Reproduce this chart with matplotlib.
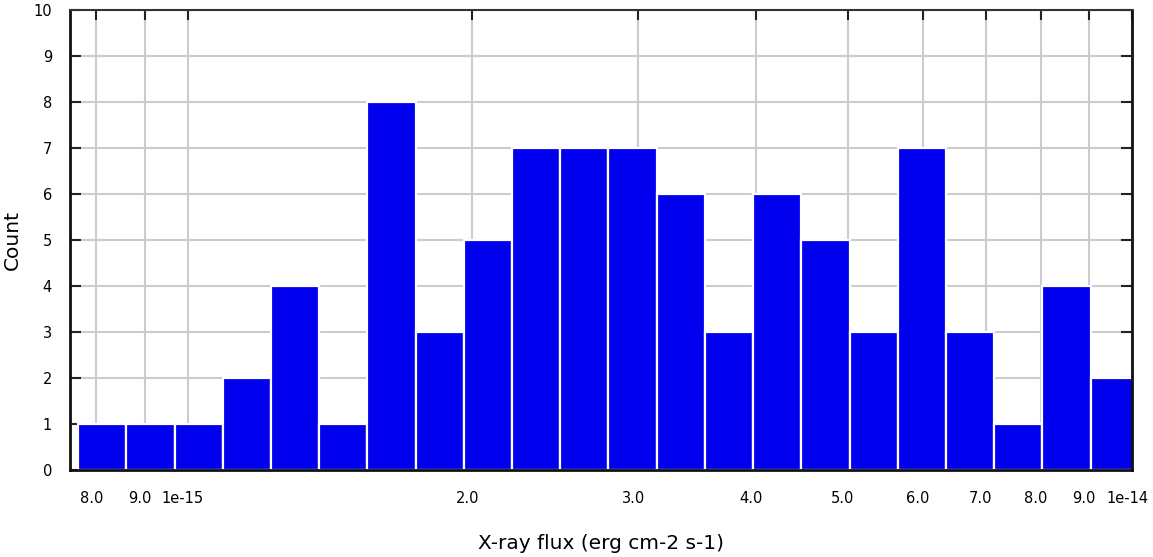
import numpy as np
import matplotlib
matplotlib.use("Agg")
import matplotlib.pyplot as plt
from matplotlib.transforms import ScaledTranslation

# Histogram of X-ray fluxes in equal log-width bins
counts = [1, 1, 1, 2, 4, 1, 8, 3, 5, 7, 7, 7, 6, 3, 6, 5, 3, 7, 3, 1, 4, 2]
log_flux_start = -14.1162   # log10 of the first bin's lower edge
log_bin_width = 0.05106     # bin width in dex

tick_values = [8e-15, 9e-15, 1e-14, 2e-14, 3e-14, 4e-14, 5e-14,
               6e-14, 7e-14, 8e-14, 9e-14, 1e-13]
tick_labels = ["8.0", "9.0", "1e-15", "2.0", "3.0", "4.0", "5.0",
               "6.0", "7.0", "8.0", "9.0", "1e-14"]
y_ticks = list(range(0, 11))

x_min, x_max = 7.5e-15, 1.0e-13

edges = 10 ** (log_flux_start + log_bin_width * np.arange(len(counts) + 1))

plt.rcParams['font.family'] = ['DejaVu Sans']

fig = plt.figure(figsize=(11.53, 5.57), dpi=100)
ax = fig.add_axes([0.0607, 0.1562, 0.9211, 0.8258])

ax.set_xscale('log')
ax.bar(edges[:-1], counts, width=np.diff(edges), align='edge',
       color='#0000ee', edgecolor='white', linewidth=1.6, zorder=2)

ax.set_xlim(x_min, x_max)
ax.set_ylim(0, 10)

ax.set_xticks(tick_values)
ax.set_xticklabels(tick_labels)
ax.xaxis.set_minor_locator(matplotlib.ticker.NullLocator())
ax.set_yticks(y_ticks)

ax.grid(True, color='#cccccc', linewidth=1.5, zorder=0)
ax.set_axisbelow(True)

ax.tick_params(axis='x', which='both', bottom=False, top=True,
               direction='in', length=7, width=1.5, color='#222222',
               labelsize=10.5, pad=15)
ax.tick_params(axis='y', which='both', left=True, right=True,
               direction='in', length=8, width=1.5, color='#222222',
               labelsize=10.5, pad=13)

# nudge x tick labels slightly left of their gridlines
shift = ScaledTranslation(-5 / 100, 0, fig.dpi_scale_trans)
for lab in ax.get_xticklabels():
    lab.set_transform(lab.get_transform() + shift)

for side in ['left', 'bottom', 'right']:
    ax.spines[side].set_linewidth(2.0)
    ax.spines[side].set_color('#111111')
ax.spines['top'].set_linewidth(1.5)
ax.spines['top'].set_color('#333333')

ax.set_xlabel("X-ray flux (erg cm-2 s-1)", fontsize=14.5, labelpad=20)
ax.set_ylabel("Count", fontsize=14.5, labelpad=8)

fig.savefig("out.png", dpi=100)
